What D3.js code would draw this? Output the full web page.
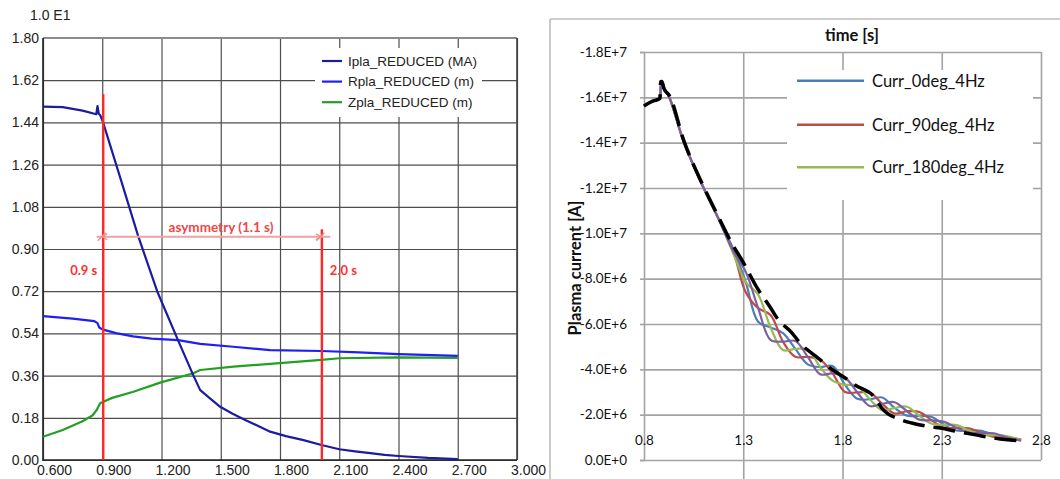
<!DOCTYPE html>
<html><head><meta charset="utf-8">
<script src="https://cdn.jsdelivr.net/npm/d3@7"></script>
<style>body{margin:0;background:#fff;} svg{display:block;}</style>
</head><body>
<svg id="c" width="1060" height="479"></svg>
<script>
// ================= LEFT CHART DATA =================
const leftXTicks = [0.6, 0.9, 1.2, 1.5, 1.8, 2.1, 2.4, 2.7, 3.0];
const leftXLabels = ["0.600","0.900","1.200","1.500","1.800","2.100","2.400","2.700","3.000"];
const leftYTicks = [0, 0.18, 0.36, 0.54, 0.72, 0.90, 1.08, 1.26, 1.44, 1.62, 1.80];
const leftYLabels = ["0.00","0.18","0.36","0.54","0.72","0.90","1.08","1.26","1.44","1.62","1.80"];
const leftScaleLabel = "1.0 E1";
const leftSeriesNames = ["Ipla_REDUCED (MA)", "Rpla_REDUCED (m)", "Zpla_REDUCED (m)"];

const iplaTime   = [0.60, 0.70, 0.80, 0.87, 0.876, 0.882, 0.89, 0.903, 1.00, 1.082, 1.178, 1.284, 1.36, 1.396, 1.45, 1.497, 1.56, 1.624, 1.69, 1.75, 1.83, 1.919, 2.01, 2.10, 2.18, 2.257, 2.33, 2.40, 2.55, 2.70];
const iplaValues = [1.507, 1.505, 1.49, 1.475, 1.51, 1.478, 1.47, 1.443, 1.18, 0.955, 0.72, 0.51, 0.363, 0.298, 0.26, 0.227, 0.197, 0.171, 0.145, 0.121, 0.102, 0.085, 0.064, 0.046, 0.037, 0.029, 0.022, 0.017, 0.009, 0.004];

const rplaTime   = [0.60, 0.75, 0.86, 0.875, 0.885, 0.90, 0.97, 1.056, 1.15, 1.284, 1.396, 1.563, 1.75, 2.01, 2.20, 2.40, 2.70];
const rplaValues = [0.614, 0.603, 0.592, 0.585, 0.565, 0.557, 0.541, 0.527, 0.518, 0.511, 0.495, 0.483, 0.469, 0.465, 0.459, 0.452, 0.444];

const zplaTime   = [0.60, 0.70, 0.80, 0.85, 0.872, 0.889, 0.95, 1.058, 1.193, 1.362, 1.396, 1.565, 1.75, 2.01, 2.10, 2.40, 2.70];
const zplaValues = [0.099, 0.128, 0.165, 0.19, 0.213, 0.242, 0.265, 0.291, 0.33, 0.37, 0.384, 0.398, 0.41, 0.427, 0.434, 0.438, 0.436];

const markerTimes  = [0.905, 2.012];
const markerTops   = [1.56, 0.984];
const markerLabels = ["0.9 s", "2.0 s"];
const asymRange    = [0.872, 2.055];
const asymLevel    = [0.952];
const asymLabel    = "asymmetry (1.1 s)";

// ================= RIGHT CHART DATA =================
const rightXTicks  = [0.8, 1.3, 1.8, 2.3, 2.8];
const rightXLabels = ["0.8","1.3","1.8","2.3","2.8"];
const rightYTicks  = [0, -2e6, -4e6, -6e6, -8e6, -1.0e7, -1.2e7, -1.4e7, -1.6e7, -1.8e7];
const rightYLabels = ["0.0E+0","-2.0E+6","-4.0E+6","-6.0E+6","-8.0E+6","-1.0E+7","-1.2E+7","-1.4E+7","-1.6E+7","-1.8E+7"];
const rightXTitle = "time [s]";
const rightYTitle = "Plasma current [A]";
const rightSeriesNames = ["Curr_0deg_4Hz", "Curr_90deg_4Hz", "Curr_180deg_4Hz", "Curr_270deg_4Hz"];

// common early part (all phase cases overlap)
const currTimeEarly   = [0.80, 0.85, 0.872, 0.880, 0.886, 0.893, 0.90, 0.93, 1.00, 1.09, 1.175];
const currValuesEarly = [-15.62e6, -15.85e6, -15.91e6, -15.95e6, -16.55e6, -16.62e6, -16.45e6, -15.95e6, -14.05e6, -12.2e6, -10.65e6];
// oscillating part
const currTimeLate = [1.25, 1.3125, 1.375, 1.4375, 1.5, 1.5625, 1.625, 1.6875, 1.75, 1.8125, 1.875, 1.9375, 2.0, 2.0625, 2.125, 2.1875, 2.25, 2.3125, 2.375, 2.4375, 2.5, 2.5625, 2.625, 2.70];
const curr0deg   = [-9.3e6, -7.85e6, -6.1e6, -5.85e6, -5.6e6, -4.9e6, -4.22e6, -4.1e6, -4.15e6, -3.32e6, -2.7e6, -2.68e6, -2.76e6, -2.3e6, -1.95e6, -1.95e6, -1.9e6, -1.55e6, -1.30e6, -1.3e6, -1.29e6, -1.1e6, -0.94e6, -0.88e6];
const curr90deg  = [-9.2e6, -7.4e6, -6.7e6, -6.4e6, -5.22e6, -4.55e6, -4.55e6, -4.43e6, -3.82e6, -3.0e6, -2.98e6, -2.98e6, -2.48e6, -2.05e6, -2.15e6, -2.12e6, -1.75e6, -1.42e6, -1.42e6, -1.4e6, -1.2e6, -1.02e6, -1.0e6, -0.91e6];
const curr180deg = [-9.1e6, -7.85e6, -7.3e6, -5.85e6, -4.85e6, -4.9e6, -4.88e6, -4.1e6, -3.5e6, -3.32e6, -3.28e6, -2.68e6, -2.2e6, -2.3e6, -2.35e6, -1.95e6, -1.6e6, -1.55e6, -1.54e6, -1.3e6, -1.11e6, -1.1e6, -1.06e6, -0.88e6];
const curr270deg = [-9.2e6, -8.3e6, -6.7e6, -5.3e6, -5.22e6, -5.25e6, -4.55e6, -3.78e6, -3.82e6, -3.64e6, -2.98e6, -2.38e6, -2.48e6, -2.55e6, -2.15e6, -1.78e6, -1.75e6, -1.68e6, -1.42e6, -1.2e6, -1.2e6, -1.18e6, -1.0e6, -0.85e6];
// reference (black dashed)
const refTime   = [0.80, 0.85, 0.872, 0.880, 0.884, 0.890, 0.90, 0.93, 1.00, 1.09, 1.175, 1.24, 1.30, 1.37, 1.435, 1.47, 1.546, 1.586, 1.677, 1.737, 1.813, 1.863, 1.964, 1.998, 2.099, 2.149, 2.250, 2.292, 2.383, 2.426, 2.50, 2.594, 2.704];
const refValues = [-15.62e6, -15.85e6, -15.91e6, -15.95e6, -16.69e6, -16.7e6, -16.4e6, -16.05e6, -14.1e6, -12.25e6, -10.73e6, -9.6e6, -8.72e6, -7.59e6, -6.75e6, -6.26e6, -5.60e6, -5.16e6, -4.50e6, -4.06e6, -3.62e6, -3.31e6, -2.74e6, -2.29e6, -1.76e6, -1.63e6, -1.46e6, -1.41e6, -1.25e6, -1.18e6, -1.06e6, -0.93e6, -0.84e6];

// ================= DRAW =================
const svg = d3.select("#c");
const zip = (t, v) => t.map((d, i) => [d, v[i]]);

// ---------- LEFT ----------
const AR = "'Liberation Sans', Arial, sans-serif";
const xL = d3.scaleLinear().domain([0.6, 3.0]).range([43, 517]);
const yL = d3.scaleLinear().domain([0, 1.8]).range([460, 38]);
const gL = svg.append("g");

gL.append("g").attr("transform", "translate(0,460)")
  .call(d3.axisBottom(xL).tickValues(leftXTicks).tickSize(-422).tickFormat(""))
  .call(g => { g.select(".domain").remove(); g.selectAll("line").attr("stroke", "#4d4d4d").attr("stroke-width", 1.2); });
gL.append("g").attr("transform", "translate(43,0)")
  .call(d3.axisLeft(yL).tickValues(leftYTicks).tickSize(-474).tickFormat(""))
  .call(g => { g.select(".domain").remove(); g.selectAll("line").attr("stroke", "#4d4d4d").attr("stroke-width", 1.2); });

// frame
gL.append("line").attr("x1", 43).attr("x2", 517).attr("y1", 38).attr("y2", 38).attr("stroke", "#8c8c8c").attr("stroke-width", 2);
gL.append("line").attr("x1", 517).attr("x2", 517).attr("y1", 38).attr("y2", 460).attr("stroke", "#444").attr("stroke-width", 1.6);
gL.append("line").attr("x1", 43).attr("x2", 43).attr("y1", 38).attr("y2", 461).attr("stroke", "#222").attr("stroke-width", 1.6);
gL.append("line").attr("x1", 43).attr("x2", 517).attr("y1", 460).attr("y2", 460).attr("stroke", "#222").attr("stroke-width", 1.6);

// tick labels
gL.append("g").attr("transform", "translate(43,0)")
  .call(d3.axisLeft(yL).tickValues(leftYTicks).tickSize(0).tickPadding(4).tickFormat((d, i) => leftYLabels[i]))
  .call(g => { g.select(".domain").remove(); g.selectAll("text").attr("font-family", AR).attr("font-size", 14).attr("fill", "#222"); });
gL.append("g").attr("transform", "translate(0,460)")
  .call(d3.axisBottom(xL).tickValues(leftXTicks).tickSize(0).tickPadding(5).tickFormat((d, i) => leftXLabels[i]))
  .call(g => { g.select(".domain").remove(); g.selectAll("text").attr("font-family", AR).attr("font-size", 14).attr("fill", "#222").attr("dx", 11); });

gL.append("text").attr("x", 30).attr("y", 15).attr("dominant-baseline", "central")
  .attr("font-family", AR).attr("font-size", 14).attr("fill", "#222").text(leftScaleLabel);

// legend
const legL = gL.append("g");
legL.append("rect").attr("x", 315).attr("y", 48).attr("width", 167).attr("height", 69).attr("fill", "#fff");
const leftColors = ["#1c1c9e", "#1f1ff5", "#22a022"];
leftSeriesNames.forEach((n, i) => {
  const y = 61 + i * 20.6;
  legL.append("line").attr("x1", 322).attr("x2", 342).attr("y1", y).attr("y2", y).attr("stroke", leftColors[i]).attr("stroke-width", 2.2);
  legL.append("text").attr("x", 348).attr("y", y).attr("dominant-baseline", "central")
    .attr("font-family", AR).attr("font-size", 13.5).attr("fill", "#222").text(n);
});

// series
const lineL = d3.line().x(d => xL(d[0])).y(d => yL(d[1]));
[[zplaTime, zplaValues, leftColors[2]], [rplaTime, rplaValues, leftColors[1]], [iplaTime, iplaValues, leftColors[0]]]
  .forEach(([t, v, c]) => {
    gL.append("path").datum(zip(t, v)).attr("d", lineL).attr("fill", "none").attr("stroke", c).attr("stroke-width", 2.2)
      .attr("stroke-linejoin", "round");
  });

// red markers
const LATO = "Lato, 'Open Sans', sans-serif";
markerTimes.forEach((t, i) => {
  gL.append("line").attr("x1", xL(t)).attr("x2", xL(t)).attr("y1", yL(markerTops[i])).attr("y2", 460)
    .attr("stroke", "#ff2626").attr("stroke-width", 2.4);
});
gL.append("text").attr("x", xL(markerTimes[0]) - 6).attr("y", 270).attr("text-anchor", "end").attr("dominant-baseline", "central")
  .attr("font-family", LATO).attr("font-weight", "bold").attr("font-size", 13).attr("fill", "#ff3030").text(markerLabels[0]);
gL.append("text").attr("x", xL(markerTimes[1]) + 8).attr("y", 270).attr("dominant-baseline", "central")
  .attr("font-family", LATO).attr("font-weight", "bold").attr("font-size", 13).attr("fill", "#ff3030").text(markerLabels[1]);

// asymmetry arrow
const ay = yL(asymLevel[0]);
gL.append("line").attr("x1", xL(asymRange[0])).attr("x2", xL(asymRange[1])).attr("y1", ay).attr("y2", ay)
  .attr("stroke", "#f5a0a0").attr("stroke-width", 2);
markerTimes.forEach(t => {
  const x = xL(t) - 1.5;
  gL.append("line").attr("x1", x - 4).attr("x2", x + 4).attr("y1", ay + 4).attr("y2", ay - 4).attr("stroke", "#f08a8a").attr("stroke-width", 1.3);
});
gL.append("path").attr("d", `M${xL(markerTimes[0]) + 4},${ay - 3} L${xL(markerTimes[0]) - 1},${ay} L${xL(markerTimes[0]) + 4},${ay + 3}`)
  .attr("fill", "none").attr("stroke", "#f08a8a").attr("stroke-width", 1.2);
gL.append("path").attr("d", `M${xL(markerTimes[1]) - 6},${ay - 3} L${xL(markerTimes[1]) - 1},${ay} L${xL(markerTimes[1]) - 6},${ay + 3}`)
  .attr("fill", "none").attr("stroke", "#f08a8a").attr("stroke-width", 1.2);
gL.append("text").attr("x", 221).attr("y", 227).attr("text-anchor", "middle").attr("dominant-baseline", "central")
  .attr("font-family", LATO).attr("font-size", 13.5).attr("font-weight", "bold").attr("fill", "#f24646").text(asymLabel);

// ---------- RIGHT ----------
const xR = d3.scaleLinear().domain([0.8, 2.8]).range([644, 1041]);
const yR = d3.scaleLinear().domain([0, -1.8e7]).range([460, 52]);
const gR = svg.append("g");
const GRID = "#a3a3a3";

// outer chart frame
gR.append("line").attr("x1", 550).attr("x2", 1060).attr("y1", 19).attr("y2", 19).attr("stroke", "#bdbdbd").attr("stroke-width", 1.6);
gR.append("line").attr("x1", 550).attr("x2", 550).attr("y1", 19).attr("y2", 479).attr("stroke", "#bdbdbd").attr("stroke-width", 1.6);

// gridlines
gR.append("g").attr("transform", "translate(644,0)")
  .call(d3.axisLeft(yR).tickValues(rightYTicks).tickSize(-397).tickFormat(""))
  .call(g => { g.select(".domain").remove(); g.selectAll("line").attr("stroke", GRID).attr("stroke-width", 1.6); });
gR.append("g").attr("transform", "translate(0,460)")
  .call(d3.axisBottom(xR).tickValues(rightXTicks.slice(1)).tickSize(-408).tickFormat(""))
  .call(g => { g.select(".domain").remove(); g.selectAll("line").attr("stroke", GRID).attr("stroke-width", 1.6); });
gR.append("g").attr("transform", "translate(0,460)")
  .call(d3.axisBottom(xR).tickValues(rightXTicks.slice(1, 4)).tickSize(19).tickFormat(""))
  .call(g => { g.select(".domain").remove(); g.selectAll("line").attr("stroke", GRID).attr("stroke-width", 1.6); });

// y axis with labels
gR.append("g").attr("transform", "translate(644,0)")
  .call(d3.axisLeft(yR).tickValues(rightYTicks).tickSize(4).tickPadding(13).tickFormat((d, i) => rightYLabels[i]))
  .call(g => {
    g.select(".domain").attr("stroke", GRID).attr("stroke-width", 1.6);
    g.selectAll("line").attr("stroke", GRID).attr("stroke-width", 1.6);
    g.selectAll("text").attr("font-family", LATO).attr("font-size", 13.5).attr("fill", "#111");
  });
// x labels
gR.append("g").attr("transform", "translate(0,440)")
  .call(d3.axisBottom(xR).tickValues(rightXTicks).tickSize(0).tickPadding(0).tickFormat((d, i) => rightXLabels[i]))
  .call(g => {
    g.select(".domain").remove();
    g.selectAll("text").attr("dy", null).attr("y", 0).attr("dominant-baseline", "central")
      .attr("font-family", LATO).attr("font-size", 13.5).attr("fill", "#111");
  });

// titles
gR.append("text").attr("x", 852).attr("y", 35).attr("text-anchor", "middle").attr("dominant-baseline", "central")
  .attr("font-family", LATO).attr("font-weight", "bold").attr("font-size", 16.5).attr("fill", "#111").text(rightXTitle);
gR.append("text").attr("transform", "translate(575,268) rotate(-90)").attr("text-anchor", "middle").attr("dominant-baseline", "central")
  .attr("font-family", LATO).attr("font-weight", "bold").attr("font-size", 16.5).attr("fill", "#111").text(rightYTitle);

// legend
const rightColors = ["#4a7ebb", "#be4b48", "#98b954", "#7d60a0"];
const legR = gR.append("g");
legR.append("rect").attr("x", 787).attr("y", 70).attr("width", 246).attr("height", 130).attr("fill", "#fff");
[0, 1, 2].forEach(i => {
  const y = [80.7, 124.7, 167.3][i];
  legR.append("line").attr("x1", 797).attr("x2", 864).attr("y1", y).attr("y2", y).attr("stroke", rightColors[i]).attr("stroke-width", 2.5);
  legR.append("text").attr("x", 872).attr("y", y).attr("dominant-baseline", "central")
    .attr("font-family", LATO).attr("font-size", 16.5).attr("fill", "#111").text(rightSeriesNames[i]);
});

// series
const lineR = d3.line().x(d => xR(d[0])).y(d => yR(d[1])).curve(d3.curveCatmullRom.alpha(0.5));
[curr0deg, curr90deg, curr180deg, curr270deg].forEach((vals, i) => {
  const pts = zip(currTimeEarly, currValuesEarly).concat(zip(currTimeLate, vals));
  gR.append("path").datum(pts).attr("d", lineR).attr("fill", "none").attr("stroke", rightColors[i]).attr("stroke-width", 2.2);
});
const lineRef = d3.line().x(d => xR(d[0])).y(d => yR(d[1])).curve(d3.curveMonotoneX);
gR.append("path").datum(zip(refTime, refValues)).attr("d", lineRef).attr("fill", "none")
  .attr("stroke", "#000").attr("stroke-width", 3.5).attr("stroke-dasharray", "22,9");
</script>
</body></html>
